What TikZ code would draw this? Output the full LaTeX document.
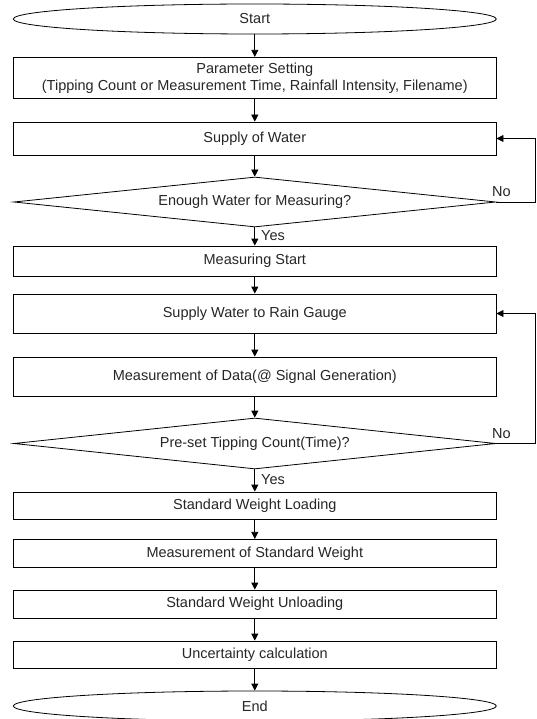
\documentclass[tikz,border=0pt]{standalone}
\usepackage{fontspec}
\setmainfont{Liberation Sans}
\usetikzlibrary{shapes.geometric,arrows.meta}
\begin{document}
\begin{tikzpicture}[x=1pt,y=-1pt,
  every node/.style={font=\fontsize{14.5}{17}\selectfont, text=black!85},
  procbox/.style={draw, rectangle, line width=0.8pt, minimum width=482.5pt, inner sep=0pt, align=center},
  termbox/.style={draw, ellipse, line width=0.8pt, minimum width=483pt, minimum height=30pt, inner sep=0pt},
  decbox/.style={draw, diamond, aspect=9.6, line width=0.8pt, minimum width=482pt, inner sep=0pt},
  flow/.style={line width=0.8pt, -{Triangle[length=7pt,width=7pt]}},
  lbl/.style={anchor=west, inner sep=0pt}]
\useasboundingbox (0,0) rectangle (536,719);
\clip (0,0) rectangle (536,719);
\node[termbox] (start) at (254.8,19) {Start};
\node[procbox, minimum height=41pt] (param) at (254.8,77.8) {Parameter Setting\\[0pt](Tipping Count or Measurement Time, Rainfall Intensity, Filename)};
\node[procbox, minimum height=33pt] (supply) at (254.8,138.5) {Supply of Water};
\node[decbox, minimum height=50pt] (enough) at (254.8,202) {Enough Water for Measuring?};
\node[procbox, minimum height=30pt] (mstart) at (254.8,261) {Measuring Start};
\node[procbox, minimum height=39pt] (srg) at (254.8,313.5) {Supply Water to Rain Gauge};
\node[procbox, minimum height=39pt] (mdata) at (254.8,376.5) {Measurement of Data(@ Signal Generation)};
\node[decbox, minimum height=51pt] (preset) at (254.8,443.5) {Pre-set Tipping Count(Time)?};
\node[procbox, minimum height=27pt] (swl) at (254.8,505.5) {Standard Weight Loading};
\node[procbox, minimum height=28pt] (msw) at (254.8,553.3) {Measurement of Standard Weight};
\node[procbox, minimum height=28pt] (swu) at (254.8,604) {Standard Weight Unloading};
\node[procbox, minimum height=27pt] (unc) at (254.8,654.5) {Uncertainty calculation};
\node[termbox] (end) at (254.8,706) {End};
\coordinate (r1) at (535,0);
\coordinate (r2) at (535,0);
\draw[flow] (start.south) -- (param.north);
\draw[flow] (param.south) -- (supply.north);
\draw[flow] (supply.south) -- (enough.north);
\draw[flow] (enough.south) -- node[lbl, pos=0.45, xshift=6pt]{Yes} (mstart.north);
\draw[flow] (mstart.south) -- (srg.north);
\draw[flow] (srg.south) -- (mdata.north);
\draw[flow] (mdata.south) -- (preset.north);
\draw[flow] (preset.south) -- node[lbl, pos=0.45, xshift=6pt]{Yes} (swl.north);
\draw[flow] (swl.south) -- (msw.north);
\draw[flow] (msw.south) -- (swu.north);
\draw[flow] (swu.south) -- (unc.north);
\draw[flow] (unc.south) -- (end.north);
\draw[flow] (enough.east) -- (enough.east -| r1) |- (supply.east);
\draw[flow] (preset.east) -- (preset.east -| r2) |- (srg.east);
\node[lbl] (no1) at (492,192) {No};
\node[lbl] (no2) at (492,434) {No};
\end{tikzpicture}
\end{document}
